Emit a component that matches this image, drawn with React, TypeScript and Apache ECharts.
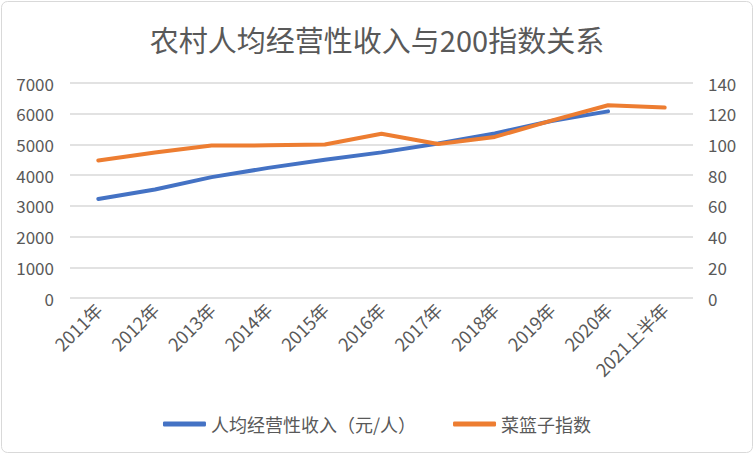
import React, { useEffect, useRef } from "react";
import * as echarts from "echarts";

const categories = ["2011年", "2012年", "2013年", "2014年", "2015年", "2016年", "2017年", "2018年", "2019年", "2020年", "2021上半年"];
const incomeValues: (number | null)[] = [3222, 3533, 3935, 4237, 4504, 4741, 5028, 5358, 5762, 6077, null];
const indexValues = [89.6, 94.7, 99.3, 99.4, 99.9, 107.0, 100.3, 104.9, 115.5, 125.5, 124.0];
const leftTicks = { min: 0, max: 7000, interval: 1000 };
const rightTicks = { min: 0, max: 140, interval: 20 };
const title = "农村人均经营性收入与200指数关系";
const seriesNames = ["人均经营性收入（元/人）", "菜篮子指数"];

const FONT = "'Noto Sans CJK SC', 'Noto Sans', sans-serif";
const GREY = "#595959";

export default function App() {
  const ref = useRef<HTMLDivElement>(null);
  useEffect(() => {
    if (!ref.current) return;
    const chart = echarts.init(ref.current, null, { renderer: "svg" });
    chart.setOption({
      animation: false,
      textStyle: { fontFamily: FONT },
      title: {
        text: title,
        left: "center",
        top: 19,
        textStyle: { fontFamily: FONT, fontSize: 29, fontWeight: "normal", color: GREY },
      },
      graphic: [
        {
          type: "rect",
          shape: { x: 1.5, y: 1.5, width: 751, height: 451, r: 6 },
          style: { fill: "none", stroke: "#d9d9d9", lineWidth: 1 },
          silent: true,
        },
      ],
      legend: {
        bottom: 16,
        left: "center",
        itemWidth: 43,
        itemHeight: 5,
        itemGap: 37,
        icon: "roundRect",
        textStyle: { fontFamily: FONT, fontSize: 18, color: GREY },
        data: seriesNames,
      },
      grid: { left: 70, right: 61, top: 83, bottom: 156 },
      xAxis: {
        type: "category",
        data: categories,
        boundaryGap: true,
        axisLine: { show: false },
        axisTick: { show: false },
        axisLabel: { rotate: 45, fontFamily: FONT, fontSize: 18, color: GREY, margin: 8, interval: 0 },
      },
      yAxis: [
        {
          type: "value",
          min: leftTicks.min,
          max: leftTicks.max,
          interval: leftTicks.interval,
          axisLine: { show: false },
          axisTick: { show: false },
          axisLabel: { fontFamily: FONT, fontSize: 17, color: GREY, margin: 16, formatter: (v: number) => String(v) },
          splitLine: { lineStyle: { color: "#d9d9d9", width: 1.5 } },
        },
        {
          type: "value",
          min: rightTicks.min,
          max: rightTicks.max,
          interval: rightTicks.interval,
          axisLine: { show: false },
          axisTick: { show: false },
          axisLabel: { fontFamily: FONT, fontSize: 17, color: GREY, margin: 15, formatter: (v: number) => String(v) },
          splitLine: { show: false },
        },
      ],
      series: [
        {
          name: seriesNames[0],
          type: "line",
          yAxisIndex: 0,
          data: incomeValues,
          showSymbol: false,
          symbol: "none",
          lineStyle: { color: "#4472C4", width: 4, cap: "round", join: "round" },
          itemStyle: { color: "#4472C4" },
        },
        {
          name: seriesNames[1],
          type: "line",
          yAxisIndex: 1,
          data: indexValues,
          showSymbol: false,
          symbol: "none",
          lineStyle: { color: "#ED7D31", width: 4, cap: "round", join: "round" },
          itemStyle: { color: "#ED7D31" },
        },
      ],
    });
    return () => chart.dispose();
  }, []);
  return (
    <div
      ref={ref}
      style={{ position: "fixed", left: 0, top: 0, width: 754, height: 454, background: "#fff" }}
    />
  );
}
